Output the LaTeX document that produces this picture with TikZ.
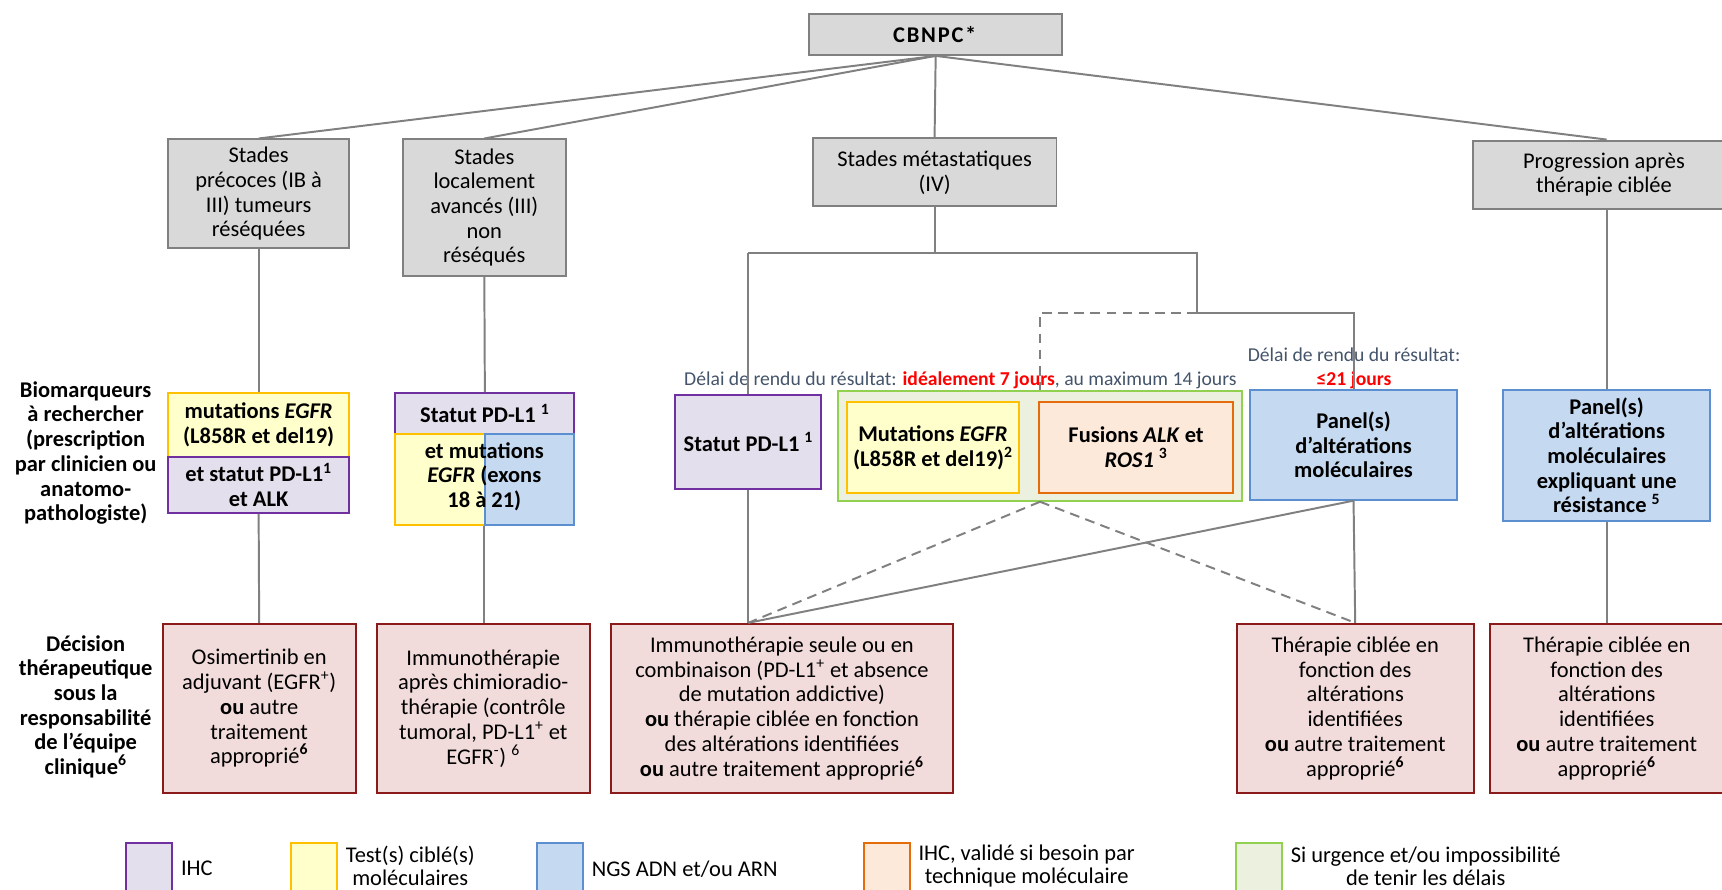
\documentclass[tikz,border=0pt]{standalone}
\usepackage{fontspec}
\setmainfont{Carlito}
\usetikzlibrary{positioning}

\definecolor{boxgray}{HTML}{D9D9D9}
\definecolor{linegray}{HTML}{808080}
\definecolor{ihcline}{HTML}{7030A0}
\definecolor{ihcfill}{HTML}{E4DFEC}
\definecolor{testline}{HTML}{FFC000}
\definecolor{testfill}{HTML}{FFFFCC}
\definecolor{ngsline}{HTML}{5B8FD0}
\definecolor{ngsfill}{HTML}{C5D9F1}
\definecolor{fusline}{HTML}{E46C0A}
\definecolor{fusfill}{HTML}{FDE9D9}
\definecolor{urgline}{HTML}{92D050}
\definecolor{urgfill}{HTML}{EBF1DE}
\definecolor{decline}{HTML}{8B1A1A}
\definecolor{decfill}{HTML}{F2DCDB}
\definecolor{delaytext}{HTML}{44546A}
\definecolor{delayred}{HTML}{FF0000}

\begin{document}
\begin{tikzpicture}[
            x = 0.0275cm, y = -0.0275cm,
            every node/.style={font=\fontsize{16}{17.6}\selectfont, align=center, inner sep=2pt},
            sz/.style 2 args={minimum width=#1*0.0275cm, minimum height=#2*0.0275cm},
            line/.style={draw=linegray, line width=1.4pt},
            dashline/.style={line, dash pattern=on 7pt off 4.5pt},
            stage/.style={draw=linegray, fill=boxgray, line width=1.4pt},
            ihc/.style={draw=ihcline, fill=ihcfill, line width=1.4pt},
            test/.style={draw=testline, fill=testfill, line width=1.4pt},
            ngs/.style={draw=ngsline, fill=ngsfill, line width=1.4pt},
            fus/.style={draw=fusline, fill=fusfill, line width=1.4pt},
            urg/.style={draw=urgline, fill=urgfill, line width=1.4pt},
            decision/.style={draw=decline, fill=decfill, line width=1.4pt},
            delay/.style={text=delaytext, font=\fontsize{14}{17.6}\selectfont},
            legend/.style={font=\fontsize{16}{16.5}\selectfont, inner sep=1pt},
            ]
        \clip (0,0) rectangle (1568,810);

        % stades
        \node[stage, sz={230}{37}] (cbnpc) at (852, 31.5) {\addfontfeatures{LetterSpace=8}\textbf{CBNPC*}};
        \node[stage, sz={165}{99}] (precoces) at (235.5, 176.5) {Stades\\précoces (IB à\\III) tumeurs\\réséquées};
        \node[stage, sz={148}{124}] (localement) at (441, 189) {Stades\\localement\\avancés (III)\\non\\réséqués};
        \node[stage, sz={222}{62}] (metast) at (851, 157) {Stades métastatiques\\(IV)};
        \node[stage, sz={239}{62}] (progression) at (1460.5, 159) {Progression après\\thérapie ciblée};

        % biomarqueurs
        \node[font=\fontsize{16}{17.6}\selectfont\bfseries] (lblbio) at (78, 412.5) {Biomarqueurs\\à rechercher\\(prescription\\par clinicien ou\\anatomo-\\pathologiste)};
        \node[test, sz={165}{58}] (bmA) at (235.5, 387) {\textbf{mutations \textit{EGFR}}\\\textbf{(L858R et del19)}};
        \node[ihc, sz={165}{51}] (bmB) at (235.5, 441.5) {\textbf{et statut PD-L1\textsuperscript{1}}\\\textbf{et ALK}};
        \node[ihc, sz={163}{37}] (bmC) at (441.5, 376.5) {\textbf{Statut PD-L1 \textsuperscript{1}}};
        \node[test, sz={82}{83}] (bmD) at (401, 436.5) {};
        \node[ngs, sz={81}{83}] (bmE) at (482.5, 436.5) {};
        \node (bmtext) at (441, 434) {\textbf{et mutations}\\\textbf{\textit{EGFR} (exons}\\\textbf{18 à 21)}};

        \node[ihc, sz={133}{85}] (pdl1) at (681.5, 402.5) {\textbf{Statut PD-L1 \textsuperscript{1}}};
        \node[urg, sz={368}{100}] (green) at (947, 406) {};
        \node[test, sz={157}{83}] (egfr) at (849.5, 407.5) {\textbf{Mutations \textit{EGFR}}\\\textbf{(L858R et del19)\textsuperscript{2}}};
        \node[fus, sz={177}{83}] (fusion) at (1034.5, 407.5) {\textbf{Fusions \textit{ALK} et}\\\textbf{\textit{ROS1} \textsuperscript{3}}};
        \node[ngs, sz={189}{100}] (panel) at (1232.5, 405) {\textbf{Panel(s)}\\\textbf{d’altérations}\\\textbf{moléculaires}};
        \node[ngs, sz={188}{119}] (rpanel) at (1463, 414.5) {\textbf{Panel(s)}\\\textbf{d’altérations}\\\textbf{moléculaires}\\\textbf{expliquant une}\\\textbf{résistance \textsuperscript{5}}};

        \node[delay] (delayA) at (874.5, 346) {Délai de rendu du résultat: \textcolor{delayred}{\textbf{idéalement 7 jours}}, au maximum 14 jours};
        \node[delay] (delayB) at (1233, 335.5) {Délai de rendu du résultat:\\\textcolor{delayred}{\textbf{≤21 jours}}};

        % decisions
        \node[font=\fontsize{16}{17.6}\selectfont\bfseries] (lbldec) at (78, 643.5) {Décision\\thérapeutique\\sous la\\responsabilité\\de l’équipe\\clinique\textsuperscript{6}};
        \node[decision, sz={176}{154}] (dA) at (236, 645) {Osimertinib en\\adjuvant (EGFR\textsuperscript{+})\\\textbf{ou} autre\\traitement\\approprié\textsuperscript{\textbf{6}}};
        \node[decision, sz={194}{154}] (dB) at (440, 645) {Immunothérapie\\après chimioradio-\\thérapie (contrôle\\tumoral, PD-L1\textsuperscript{+} et\\EGFR\textsuperscript{-}) \textsuperscript{6}};
        \node[decision, sz={312}{154}] (dC) at (712, 645) {Immunothérapie seule ou en\\combinaison (PD-L1\textsuperscript{+} et absence\\de mutation addictive)\\\textbf{ou} thérapie ciblée en fonction\\des altérations identifiées\\\textbf{ou} autre traitement approprié\textsuperscript{\textbf{6}}};
        \node[decision, sz={216}{154}] (dD) at (1234, 645) {Thérapie ciblée en\\fonction des\\altérations\\identifiées\\\textbf{ou} autre traitement\\approprié\textsuperscript{\textbf{6}}};
        \node[decision, sz={212}{154}] (dE) at (1463, 645) {Thérapie ciblée en\\fonction des\\altérations\\identifiées\\\textbf{ou} autre traitement\\approprié\textsuperscript{\textbf{6}}};

        % liens
        \coordinate (hub) at (851, 230);
        \coordinate (fork) at (1090, 285);
        \draw[line] (cbnpc.south) -- (precoces.north);
        \draw[line] (cbnpc.south) -- (localement.north);
        \draw[line] (cbnpc.south) -- (metast.north);
        \draw[line] (cbnpc.south) -- (progression.north -| rpanel.north);
        \draw[line] (precoces.south) -- (bmA.north);
        \draw[line] (bmB.south) -- (dA.north);
        \draw[line] (localement.south) -- (bmC.north);
        \draw[line] (bmE.south west) -- (bmE.south west |- dB.north);
        \draw[line] (metast.south) -- (hub);
        \draw[line] (pdl1.north |- hub) -- (hub) -| (fork) -| (panel.north);
        \draw[line] (pdl1.north |- hub) -- (pdl1.north);
        \draw[dashline] (fork) -| (green.north);
        \draw[line] (pdl1.south) -- (pdl1.south |- dC.north);
        \draw[dashline] (green.south) -- (pdl1.south |- dC.north);
        \draw[dashline] (green.south) -- (dD.north);
        \draw[line] (panel.south) -- (pdl1.south |- dC.north);
        \draw[line] (panel.south) -- (dD.north);
        \draw[line] (progression.south -| rpanel.north) -- (rpanel.north);
        \draw[line] (rpanel.south) -- (dE.north);

        % legende
        \node[ihc, sz={42}{46}] (lgA) at (136, 791) {};
        \node[legend, right=0.15cm of lgA] (lgtA) {IHC};
        \node[test, sz={42}{46}] (lgB) at (286, 791) {};
        \node[legend, right=0.15cm of lgB, yshift=2pt] (lgtB) {Test(s) ciblé(s)\\moléculaires};
        \node[ngs, sz={42}{46}] (lgC) at (510, 791) {};
        \node[legend, right=0.15cm of lgC] (lgtC) {NGS ADN et/ou ARN};
        \node[fus, sz={42}{46}] (lgD) at (807.5, 791) {};
        \node[legend, right=0.15cm of lgD, yshift=2pt] (lgtD) {IHC, validé si besoin par\\technique moléculaire};
        \node[urg, sz={42}{46}] (lgE) at (1146.5, 791) {};
        \node[legend, right=0.15cm of lgE, yshift=2pt] (lgtE) {Si urgence et/ou impossibilité\\de tenir les délais};
    \end{tikzpicture}
\end{document}
